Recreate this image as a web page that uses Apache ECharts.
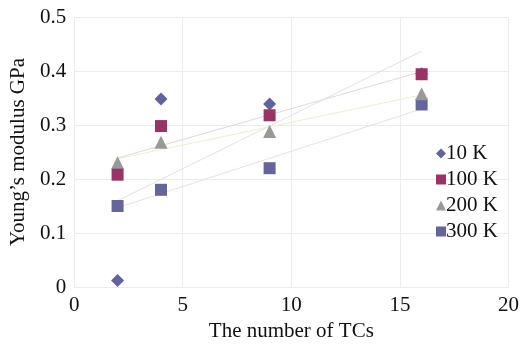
<!DOCTYPE html>
<html><head><meta charset="utf-8">
<script src="https://cdn.jsdelivr.net/npm/echarts@6/dist/echarts.min.js"></script>
<style>html,body{margin:0;padding:0;background:#fff}#c{width:522px;height:350px}</style>
</head><body><div id="c"></div>
<script>
const xValues = [2, 4, 9, 16];
const seriesNames = ['10 K', '100 K', '200 K', '300 K'];
const y10K = [0.012, 0.348, 0.339, 0.395];
const y100K = [0.208, 0.298, 0.318, 0.394];
const y200K = [0.23, 0.268, 0.288, 0.358];
const y300K = [0.15, 0.18, 0.22, 0.338];
const xTicks = [0, 5, 10, 15, 20];
const yTicks = [0, 0.1, 0.2, 0.3, 0.4, 0.5];

const allY = [y10K, y100K, y200K, y300K];
const markerColors = ['#62629c', '#993366', '#999999', '#65659c'];
const symbols = ['diamond', 'rect', 'triangle', 'rect'];
const symbolSizes = [13, 12, 13, 12];
const trendColors = ['#e2dfea', '#e6d4de', '#efefcc', '#eddde5'];
const font = '"Liberation Serif", "DejaVu Serif", serif';

function fit(xs, ys) {
  const n = xs.length;
  const mx = xs.reduce((a, b) => a + b, 0) / n;
  const my = ys.reduce((a, b) => a + b, 0) / n;
  let sxy = 0, sxx = 0;
  for (let i = 0; i < n; i++) { sxy += (xs[i] - mx) * (ys[i] - my); sxx += (xs[i] - mx) ** 2; }
  const b = sxy / sxx, a = my - b * mx;
  const x0 = xs[0], x1 = xs[n - 1];
  return [[x0, a + b * x0], [x1, a + b * x1]];
}

const series = [];
allY.forEach((ys, i) => {
  series.push({
    type: 'line', name: seriesNames[i] + ' trend', data: fit(xValues, ys),
    symbol: 'none', silent: true, z: 1,
    lineStyle: { color: trendColors[i], width: 1 }
  });
});
const order = [0, 3, 2, 1];
order.forEach((i, k) => {
  series.push({
    type: 'scatter', name: seriesNames[i],
    data: xValues.map((x, j) => [x, allY[i][j]]),
    symbol: symbols[i], symbolSize: symbolSizes[i],
    itemStyle: { color: markerColors[i], opacity: 1 }, z: 2 + k
  });
});

const chart = echarts.init(document.getElementById('c'));
chart.setOption({
  animation: false,
  backgroundColor: '#fff',
  grid: { left: 71.5, right: 13, top: 17, bottom: 63 },
  legend: {
    data: seriesNames.map((n, i) => ({ name: n, icon: symbols[i] })),
    orient: 'vertical', left: 431, top: 138,
    itemWidth: 10, itemHeight: 10, itemGap: 5,
    textStyle: { fontFamily: font, fontSize: 21, color: '#111', padding: [0, 0, 0, -5] }
  },
  xAxis: {
    type: 'value', min: 0, max: 20, interval: 5,
    name: 'The number of TCs', nameLocation: 'middle', nameGap: 29,
    nameTextStyle: { fontFamily: font, fontSize: 21, color: '#111' },
    axisLine: { show: false }, axisTick: { show: false },
    axisLabel: { fontFamily: font, fontSize: 21, color: '#111', margin: 8 },
    splitLine: { show: true, lineStyle: { color: '#ececec', width: 1 } }
  },
  yAxis: {
    type: 'value', min: 0, max: 0.5, interval: 0.1,
    name: "Young’s modulus GPa", nameLocation: 'middle', nameGap: 41, nameRotate: 90,
    nameTextStyle: { fontFamily: font, fontSize: 21, color: '#111' },
    axisLine: { show: false }, axisTick: { show: false },
    axisLabel: { fontFamily: font, fontSize: 21, color: '#111', margin: 8,
      formatter: v => String(+v.toFixed(1)) },
    splitLine: { show: true, lineStyle: { color: '#ececec', width: 1 } }
  },
  series: series
});
</script></body></html>
